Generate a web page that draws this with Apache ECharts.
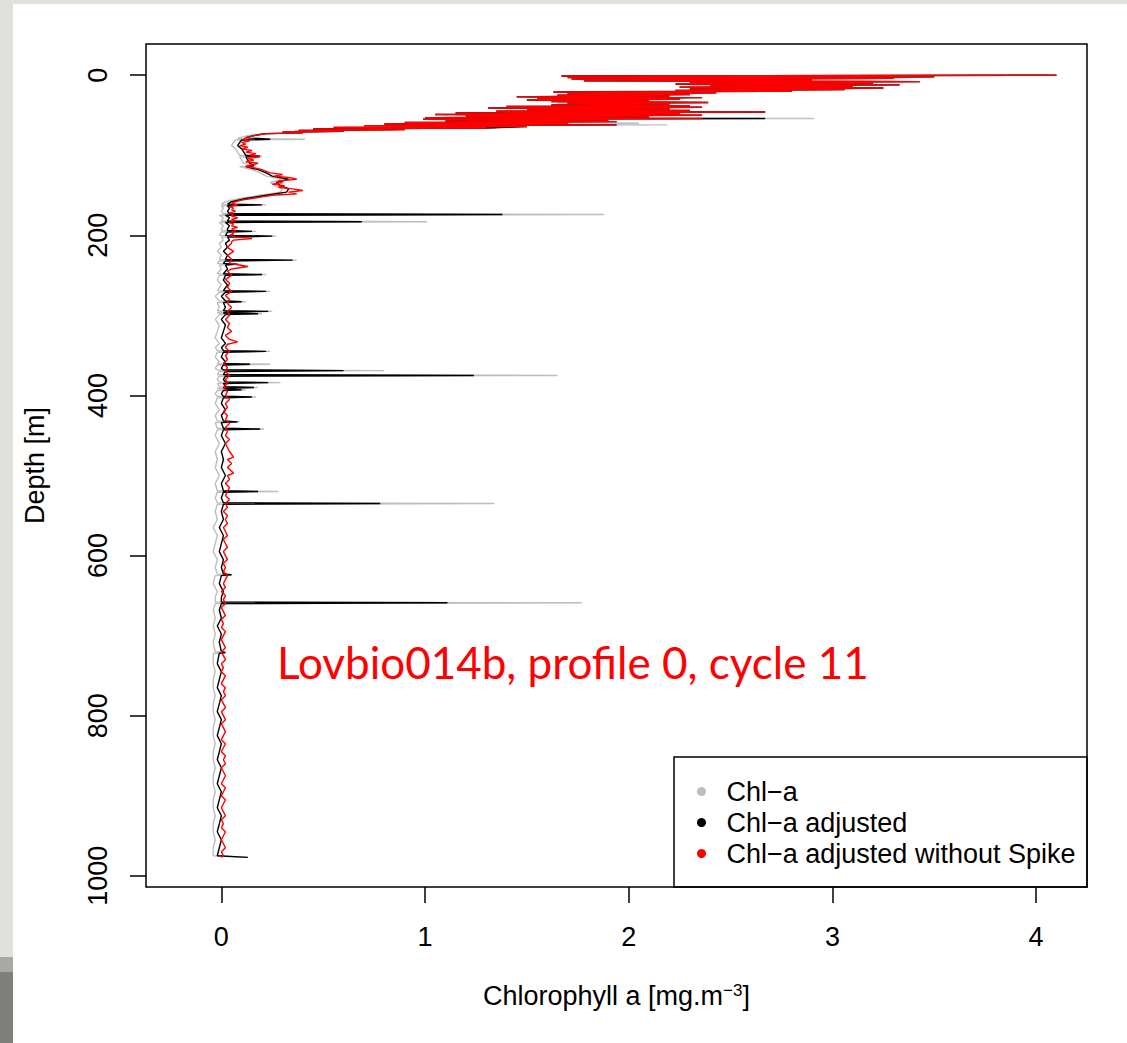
<!DOCTYPE html>
<html>
<head>
<meta charset="utf-8">
<script src="https://cdn.jsdelivr.net/npm/echarts@6/dist/echarts.min.js"></script>
<style>
html,body{margin:0;padding:0;background:#fff;}
#chart{width:1127px;height:1043px;}
</style>
</head>
<body>
<div id="chart"></div>
<script>
// ---- data: [depth (m), chlorophyll a (mg/m3)] ----
const seriesNames = ['Chl\u2212a', 'Chl\u2212a adjusted', 'Chl\u2212a adjusted without Spike'];
const xTicks = [0, 1, 2, 3, 4];
const yTicks = [0, 200, 400, 600, 800, 1000];

const chlaNoSpike = [
[0,4.10],[1,1.67],[2,3.50],[3,1.70],[4,3.30],[5,1.72],[6,2.90],[7,1.78],[8,3.43],[9,2.30],[10,3.20],[11,2.23],[12,3.33],[13,2.40],[14,3.10],[15,2.25],[16,3.25],[17,2.30],[18,3.06],[19,2.23],[20,2.80],[21,1.63],[22,2.43],[23,1.70],[24,2.30],[25,1.65],[26,2.20],[27,1.45],[28,2.36],[29,1.55],[30,2.25],[31,1.50],[32,2.10],[33,1.62],[34,2.39],[35,1.70],[36,2.20],[37,1.62],[38,2.30],[39,1.40],[40,2.36],[41,1.31],[42,2.20],[43,1.50],[44,2.30],[45,1.35],[46,2.67],[47,1.15],[48,2.25],[49,1.05],[50,2.36],[51,1.20],[52,2.10],[53,1.00],[54,2.36],[55,0.99],[56,1.90],[57,1.10],[58,1.94],[59,0.90],[60,1.70],[61,0.80],[62,1.94],[63,0.70],[64,1.50],[65,0.55],[66,1.30],[67,0.45],[68,0.90],[69,0.38],[70,0.60],[71,0.30],[72,0.40],[73,0.22],[74,0.19],[76,0.15],[78,0.12],[80,0.11],
[82,0.14],[84,0.10],[86,0.12],[88,0.09],[90,0.13],[92,0.10],[94,0.15],[96,0.12],[98,0.17],[100,0.14],[102,0.19],[104,0.13],[106,0.16],[108,0.12],[110,0.18],[112,0.15],[114,0.12],[116,0.17],[118,0.20],[120,0.22],[122,0.24],[124,0.30],[126,0.26],[128,0.34],[130,0.37],[132,0.28],[134,0.30],[136,0.25],[138,0.31],[140,0.28],[142,0.35],[144,0.40],[146,0.33],[148,0.37],[150,0.25],[152,0.20],[154,0.15],[156,0.10],[158,0.07],[160,0.05],[162,0.08],[164,0.04],[166,0.06],[168,0.05],[170,0.07],[172,0.04],[174,0.06],[176,0.05],[178,0.08],[180,0.05],[182,0.07],[184,0.04],[186,0.06],[188,0.05],[190,0.08],[192,0.05],[194,0.07],[196,0.05],[198,0.06],[200,0.04],[202,0.07],[204,0.15],[206,0.06],[208,0.05],
[210,0.05],[215,0.03],[220,0.06],[225,0.03],[230,0.05],[235,0.04],[239,0.13],[242,0.05],[245,0.03],[250,0.05],[255,0.02],[260,0.04],[265,0.03],[270,0.05],[275,0.02],[280,0.04],[285,0.03],[290,0.05],[295,0.03],[300,0.04],[305,0.02],[310,0.04],[315,0.03],[320,0.05],[325,0.02],[330,0.04],[333,0.08],[336,0.03],[340,0.02],[345,0.04],[350,0.02],[355,0.03],[360,0.01],[365,0.03],[370,0.02],[375,0.04],[380,0.02],[385,0.03],[390,0.01],[395,0.03],[400,0.02],[405,0.04],[410,0.02],[415,0.03],[420,0.01],[425,0.03],[430,0.02],[435,0.04],[440,0.02],[445,0.03],[450,0.02],[455,0.04],[460,0.02],[465,0.03],[470,0.04],[477,0.06],[480,0.03],[485,0.05],[490,0.03],[497,0.06],[500,0.03],[505,0.04],[510,0.02],[515,0.04],[520,0.03],[525,0.02],[530,0.04],[535,0.02],[540,0.03],[545,0.01],[550,0.03],[555,0.02],[560,0.03],[565,0.01],[570,0.02],[575,0.03],[580,0.01],[585,0.02],[590,0.03],[595,0.01],[600,0.02],[605,0.03],[610,0.01],[615,0.02],[620,0.01],[625,0.03],[630,0.02],[635,0.01],[640,0.02],[645,0.00],[650,0.02],[655,0.01],[660,0.02],[665,0.00],[670,0.01],[675,0.02],[680,0.00],[685,0.01],[690,0.00],[695,0.02],[700,0.01],[705,0.00],[710,0.01],[715,0.02],[720,0.00],[725,0.01],[730,0.02],[735,0.00],[740,0.01],[745,0.00],[750,0.02],[755,0.01],[760,0.00],[765,0.02],[770,0.01],[775,0.02],[780,0.00],[785,0.01],[790,0.02],[795,0.00],[800,0.01],[805,0.02],[810,0.00],[815,0.01],[820,0.02],[825,0.01],[830,0.00],[835,0.02],[840,0.01],[845,0.00],[850,0.02],[855,0.01],[860,0.02],[865,0.00],[870,0.01],[875,0.02],[880,0.01],[885,0.00],[890,0.02],[895,0.01],[900,0.00],[905,0.02],[910,0.01],[915,0.00],[920,0.01],[925,0.02],[930,0.00],[935,0.01],[940,0.00],[945,0.02],[950,0.01],[955,0.00],[960,0.01],[965,0.02],[970,0.00],[975,0.01],[977,0.00]
];

const chlaAdjusted = [
[0,4.10],[1,1.67],[2,3.50],[3,1.70],[4,3.30],[5,1.72],[6,2.90],[7,1.78],[8,3.43],[9,2.30],[10,3.20],[11,2.23],[12,3.33],[13,2.40],[14,3.10],[15,2.25],[16,3.25],[17,2.30],[18,3.06],[19,2.23],[20,2.80],[21,1.63],[22,2.43],[23,1.70],[24,2.30],[25,1.65],[26,2.20],[27,1.45],[28,2.36],[29,1.55],[30,2.25],[31,1.50],[32,2.10],[33,1.62],[34,2.39],[35,1.70],[36,2.20],[37,1.62],[38,2.30],[39,1.40],[40,2.36],[41,1.31],[42,2.20],[43,1.50],[44,2.30],[45,1.35],[46,2.67],[47,1.15],[48,2.25],[49,1.05],[50,2.36],[51,1.20],[52,2.10],[53,1.00],[54,2.67],[55,0.99],[56,1.90],[57,1.10],[58,1.94],[59,0.90],[60,1.70],[61,0.80],[62,1.94],[63,0.70],[64,1.50],[65,1.40],[66,1.30],[67,0.45],[68,0.90],[69,0.38],[70,0.60],[71,0.30],[72,0.40],[73,0.22],[74,0.19],[76,0.15],[78,0.12],
[80,0.24],[81,0.10],[84,0.09],[88,0.08],[92,0.10],[96,0.11],[100,0.12],[101,0.19],[102,0.12],[106,0.13],[110,0.14],[113,0.16],[114,0.12],[118,0.18],[122,0.22],[126,0.25],[130,0.33],[134,0.27],[138,0.29],[142,0.33],[146,0.32],[150,0.22],[154,0.12],[158,0.05],[161,0.03],[162,0.20],[163,0.03],[166,0.04],[170,0.03],[173,0.04],[174,1.38],[175,0.02],[178,0.04],[182,0.03],[183,0.69],[184,0.02],[188,0.04],[192,0.03],[194,0.03],[195,0.15],[196,0.03],[200,0.02],[201,0.25],[202,0.03],[206,0.04],[210,0.02],
[215,0.03],[220,0.01],[225,0.03],[230,0.02],[231,0.35],[232,0.02],[235,0.01],[236,0.08],[237,0.02],[242,0.03],[248,0.01],[249,0.20],[250,0.02],[256,0.01],[262,0.03],[269,0.01],[270,0.22],[271,0.02],[276,0.00],[282,0.02],[283,0.10],[284,0.01],[290,0.02],[294,0.01],[295,0.23],[296,0.02],[297,0.01],[298,0.18],[299,0.02],[305,0.00],[312,0.02],[320,0.01],[328,0.00],[335,0.02],[340,0.00],[344,0.01],[345,0.22],[346,0.01],[352,0.00],[358,0.02],[360,0.01],[361,0.14],[362,0.01],[366,0.00],[368,0.01],[369,0.60],[370,0.02],[374,0.01],[375,1.24],[376,0.02],[380,0.01],[383,0.02],[384,0.23],[385,0.01],[389,0.02],[390,0.16],[391,0.01],[392,0.02],[393,0.10],[394,0.01],[398,0.00],[401,0.01],[402,0.15],[403,0.01],[410,0.00],[418,0.02],[425,0.00],[432,0.01],[433,0.08],[434,0.00],[441,0.01],[442,0.19],[443,0.01],[450,0.00],[460,0.02],[470,0.00],[480,0.01],[490,0.00],[500,0.02],[510,0.00],[519,0.01],[520,0.18],[521,0.01],[528,0.00],[534,0.01],[535,0.78],[536,0.01],[545,0.00],[555,0.01],[565,-0.01],[575,0.01],[585,0.00],[595,-0.01],[605,0.01],[615,0.00],[623,0.01],[624,0.05],[625,0.00],[635,-0.01],[645,0.01],[652,0.00],[658,0.00],[659,1.11],[660,0.00],[668,-0.01],[678,0.00],[688,-0.02],[698,0.00],[708,-0.01],[720,0.00],[721,0.02],[722,-0.01],[735,-0.02],[745,0.00],[755,-0.01],[765,-0.02],[775,0.00],[785,-0.01],[795,-0.02],[805,0.00],[815,-0.01],[825,-0.02],[835,0.00],[845,-0.01],[855,-0.02],[865,0.00],[875,-0.01],[885,-0.02],[895,0.00],[905,-0.01],[915,-0.02],[925,0.00],[935,-0.01],[945,-0.02],[955,0.00],[965,-0.01],[975,-0.02],[977,0.13]
];

const chlaRaw = [
[0,4.05],[1,1.70],[2,3.45],[4,3.30],[5,1.75],[8,3.40],[9,2.30],[12,3.30],[13,2.30],[16,3.20],[18,3.00],[19,2.25],[21,1.65],[22,2.40],[24,2.25],[25,1.70],[27,1.50],[28,2.30],[30,2.20],[31,1.55],[34,2.35],[35,1.65],[38,2.25],[39,1.40],[40,2.30],[41,1.35],[44,2.25],[45,1.35],[46,2.60],[47,1.20],[50,2.30],[51,1.20],[53,1.05],[54,2.91],[55,1.00],[57,1.86],[58,1.10],[60,2.05],[61,0.85],[62,2.19],[63,0.75],[64,1.45],[65,0.60],[66,1.35],[67,0.45],[68,0.85],[69,0.36],[70,0.55],[72,0.35],[74,0.17],[76,0.12],[78,0.09],[79,0.08],
[80,0.41],[81,0.07],[84,0.06],[88,0.05],[92,0.07],[96,0.08],[100,0.09],[101,0.20],[102,0.09],[106,0.10],[110,0.11],[113,0.17],[114,0.09],[118,0.15],[122,0.19],[126,0.22],[130,0.30],[134,0.24],[138,0.26],[142,0.30],[146,0.29],[150,0.19],[154,0.09],[158,0.02],[161,0.00],[162,0.22],[163,0.00],[166,0.01],[170,0.00],[173,0.01],[174,1.88],[175,-0.01],[178,0.01],[182,0.00],[183,1.01],[184,-0.01],[188,0.01],[192,0.00],[194,0.00],[195,0.17],[196,0.00],[200,-0.01],[201,0.27],[202,0.00],[206,0.01],[210,-0.01],
[215,0.00],[220,-0.02],[225,0.00],[230,-0.01],[231,0.37],[232,-0.01],[235,-0.02],[236,0.10],[237,-0.01],[242,0.00],[248,-0.02],[249,0.22],[250,-0.01],[256,-0.02],[262,0.00],[269,-0.02],[270,0.24],[271,-0.01],[276,-0.03],[282,-0.01],[283,0.12],[284,-0.02],[290,-0.01],[294,-0.02],[295,0.25],[296,-0.01],[297,-0.02],[298,0.20],[299,-0.01],[305,-0.03],[312,-0.01],[320,-0.02],[328,-0.03],[335,-0.01],[340,-0.03],[344,-0.02],[345,0.24],[346,-0.02],[352,-0.03],[358,-0.01],[360,-0.02],[361,0.24],[362,-0.02],[366,-0.03],[368,-0.02],[369,0.80],[370,-0.01],[374,-0.02],[375,1.65],[376,-0.01],[380,-0.02],[383,-0.01],[384,0.29],[385,-0.02],[389,-0.01],[390,0.18],[391,-0.02],[392,-0.01],[393,0.12],[394,-0.02],[398,-0.03],[401,-0.02],[402,0.17],[403,-0.02],[410,-0.03],[418,-0.01],[425,-0.03],[432,-0.02],[433,0.09],[434,-0.03],[441,-0.02],[442,0.21],[443,-0.02],[450,-0.03],[460,-0.01],[470,-0.03],[480,-0.02],[490,-0.03],[500,-0.01],[510,-0.03],[519,-0.02],[520,0.28],[521,-0.02],[528,-0.03],[534,-0.02],[535,1.34],[536,-0.02],[545,-0.03],[555,-0.02],[565,-0.04],[575,-0.02],[585,-0.03],[595,-0.04],[605,-0.02],[615,-0.03],[623,-0.02],[624,0.05],[625,-0.03],[635,-0.04],[645,-0.02],[652,-0.03],[658,-0.03],[659,1.77],[660,-0.03],[668,-0.04],[678,-0.03],[688,-0.04],[698,-0.03],[708,-0.04],[720,-0.03],[721,0.02],[722,-0.04],[735,-0.04],[745,-0.03],[755,-0.04],[765,-0.04],[775,-0.03],[785,-0.04],[795,-0.04],[805,-0.03],[815,-0.04],[825,-0.04],[835,-0.03],[845,-0.04],[855,-0.04],[865,-0.03],[875,-0.04],[885,-0.04],[895,-0.03],[905,-0.04],[915,-0.04],[925,-0.03],[935,-0.04],[945,-0.04],[955,-0.03],[965,-0.04],[975,-0.04],[977,0.13]
];

const titleText = 'Lovbio014b, profile 0, cycle 11';

// ---- chart ----
const FONT = '"Liberation Sans", Arial, sans-serif';
const chart = echarts.init(document.getElementById('chart'), null, {renderer: 'svg'});
const toXY = arr => arr.map(p => [p[1], p[0]]);
const colors = ['#bebebe', '#000000', '#ff0000'];
const sources = [chlaRaw, chlaAdjusted, chlaNoSpike];

chart.setOption({
  animation: false,
  backgroundColor: '#ffffff',
  grid: {left: 146, right: 40, top: 44, bottom: 156, show: true, borderColor: '#000', borderWidth: 1.5, containLabel: false},
  xAxis: {
    type: 'value', min: -0.37, max: 4.25,
    name: 'Chlorophyll a [mg.m{sup|\u22123}]',
    nameLocation: 'middle', nameGap: 95,
    nameTextStyle: {fontFamily: FONT, fontSize: 27, color: '#000', lineHeight: 27,
      rich: {sup: {fontFamily: FONT, fontSize: 17, color: '#000', verticalAlign: 'top', lineHeight: 17}}},
    axisLine: {show: false, onZero: false},
    axisTick: {show: true, inside: false, length: 16, customValues: xTicks, lineStyle: {color: '#000', width: 1.5}},
    axisLabel: {customValues: xTicks, margin: 36, fontFamily: FONT, fontSize: 27, color: '#000', formatter: v => String(v)},
    splitLine: {show: false}
  },
  yAxis: {
    type: 'value', inverse: true, min: -39, max: 1014,
    name: 'Depth [m]', nameLocation: 'middle', nameGap: 98, nameRotate: 90,
    nameTextStyle: {fontFamily: FONT, fontSize: 27, color: '#000'},
    axisLine: {show: false, onZero: false},
    axisTick: {show: true, inside: false, length: 16, customValues: yTicks, lineStyle: {color: '#000', width: 1.5}},
    axisLabel: {customValues: yTicks, rotate: 90, margin: 35, fontFamily: FONT, fontSize: 27, color: '#000', formatter: v => String(v)},
    splitLine: {show: false}
  },
  legend: {
    show: true, orient: 'vertical', left: 697, top: 778, padding: 0,
    icon: 'circle', itemWidth: 40, itemHeight: 9, itemGap: 4,
    textStyle: {fontFamily: FONT, fontSize: 27, color: '#000', lineHeight: 27},
    data: seriesNames
  },
  series: sources.map((src, i) => ({
    name: seriesNames[i], type: 'line', data: toXY(src),
    showSymbol: false, symbol: 'circle', symbolSize: 9,
    itemStyle: {color: colors[i]},
    lineStyle: {color: colors[i], width: 1.4},
    z: 2 + i
  })),
  graphic: [
    {type: 'rect', z: -10, shape: {x: 0, y: 0, width: 1127, height: 4}, style: {fill: '#e1e1dc'}},
    {type: 'rect', z: -10, shape: {x: 0, y: 0, width: 13, height: 957}, style: {fill: '#e1e1dc'}},
    {type: 'rect', z: -10, shape: {x: 0, y: 957, width: 13, height: 15}, style: {fill: '#a9a9a4'}},
    {type: 'rect', z: -10, shape: {x: 0, y: 972, width: 13, height: 71}, style: {fill: '#80807a'}},
    {type: 'rect', z: 50, shape: {x: 674, y: 757, width: 413, height: 130}, style: {fill: 'none', stroke: '#000', lineWidth: 1.5}},
    {type: 'text', z: 50, x: 277, y: 662, style: {text: titleText, fill: '#ff0000', font: '44px Lato, "Open Sans", sans-serif', verticalAlign: 'middle', align: 'left'}}
  ]
});
</script>
</body>
</html>
